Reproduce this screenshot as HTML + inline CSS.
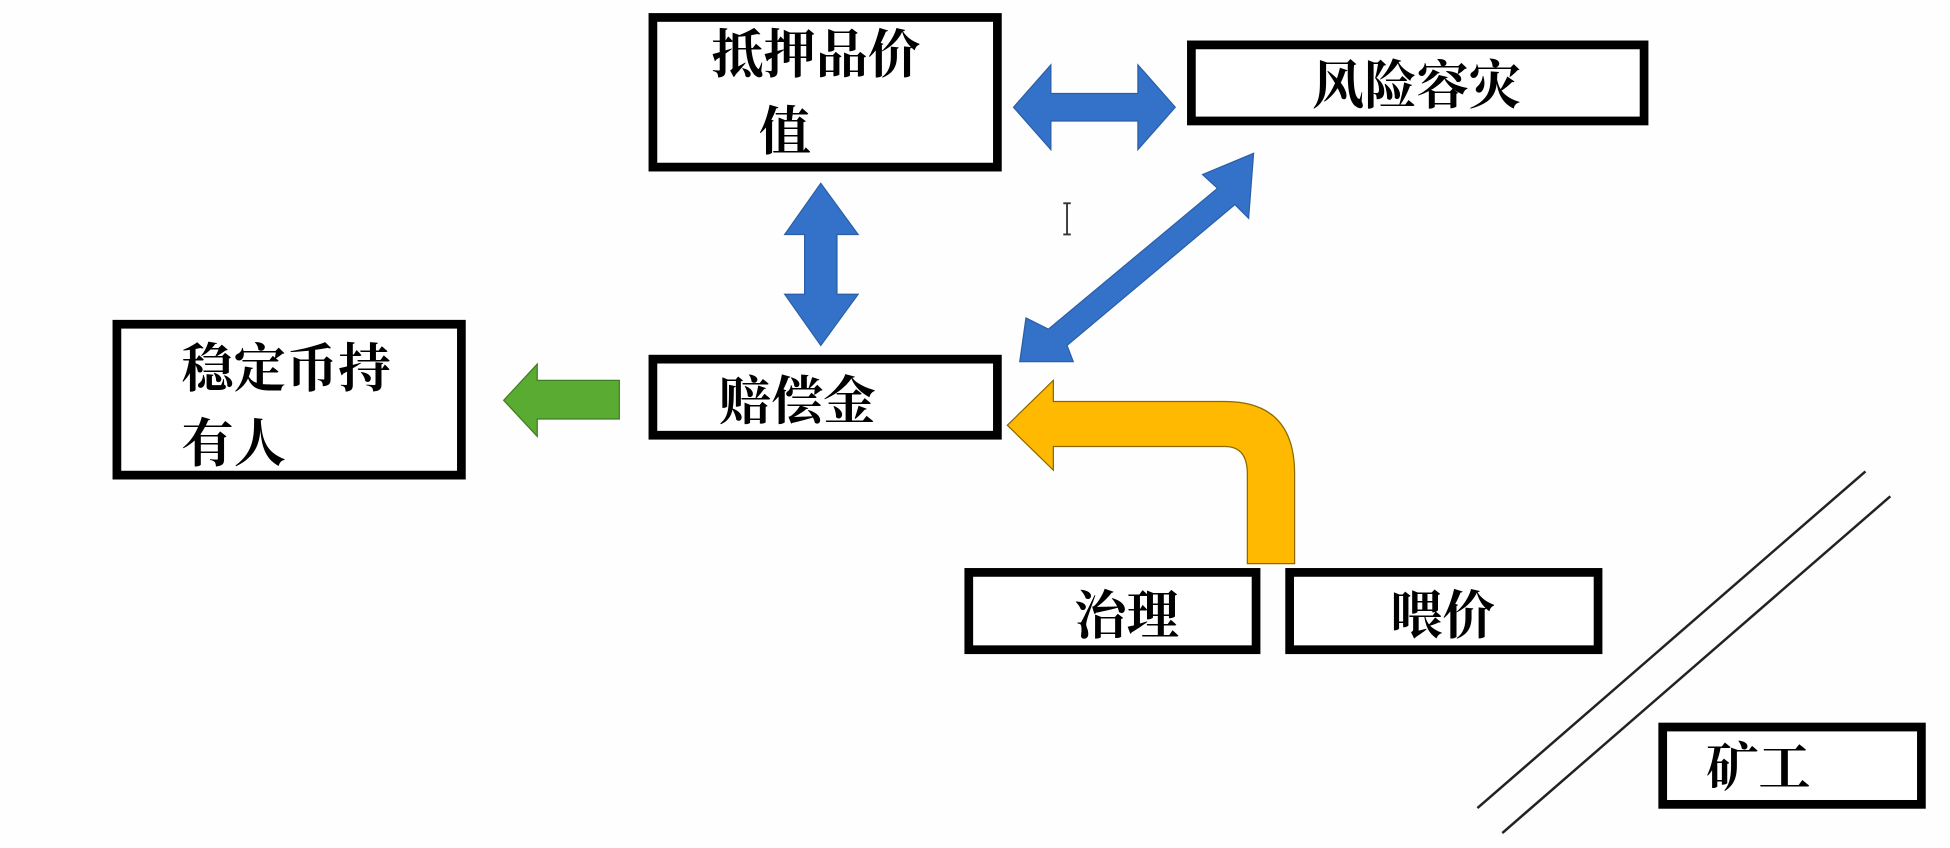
<!DOCTYPE html>
<html><head><meta charset="utf-8"><style>
html,body{margin:0;padding:0;background:#fefefe;}
svg{display:block}
text{font-family:"Liberation Serif","Noto Serif CJK SC","Noto Sans CJK SC",serif;font-weight:bold;font-size:42px;fill:#000}
</style></head><body>
<svg width="1950" height="848" viewBox="0 0 1568 680" preserveAspectRatio="none">
<rect width="1568" height="680" fill="#fefefe"/>
<g fill="#fff" stroke="#000" stroke-width="7">
<rect x="525" y="14" width="277" height="120"/>
<rect x="958" y="36" width="364" height="61"/>
<rect x="94" y="260" width="277" height="121"/>
<rect x="525" y="288" width="277" height="61"/>
<rect x="779" y="459" width="231" height="62"/>
<rect x="1037" y="459" width="248" height="62"/>
<rect x="1337" y="583" width="208" height="62"/>
</g>
<text x="572" y="58">抵押品价</text>
<text x="610" y="120">值</text>
<text x="1055" y="83">风险容灾</text>
<text x="146" y="310">稳定币持</text>
<text x="146" y="370">有人</text>
<text x="578" y="336">赔偿金</text>
<text x="864" y="508">治理</text>
<text x="1118" y="508">喂价</text>
<text x="1372" y="630">矿工</text>
<g fill="#3472c9" stroke="#2a5fa8" stroke-width="1">
<polygon points="815,86 845,52 845,75 915,75 915,52 945,86 915,120 915,97 845,97 845,120"/>
<polygon points="660,147 690,188 673,188 673,236 690,236 660,277 631,236 647,236 647,188 631,188"/>
<polygon points="1008,123 1004,175 993,164 858,277 863,290 820,290 825,255 843,264 979,151 967,140"/>
</g>
<polygon points="405,321 432,292 432,305 498,305 498,336 432,336 432,350" fill="#5aab32" stroke="#3f7d22" stroke-width="1"/>
<path d="M810,341 L847,305 L847,322 L985,322 Q1041,322 1041,380 L1041,452 L1003,452 L1003,380 Q1003,358 985,358 L847,358 L847,377 Z" fill="#ffb900" stroke="#8a6a00" stroke-width="1"/>
<g stroke="#222" stroke-width="2">
<line x1="1188" y1="648" x2="1500" y2="378"/>
<line x1="1208" y1="668" x2="1520" y2="398"/>
</g>
<g stroke="#333" stroke-width="1.5">
<line x1="858" y1="163" x2="858" y2="188"/><line x1="855" y1="163" x2="861" y2="163"/><line x1="855" y1="188" x2="861" y2="188"/>
</g>
</svg>
</body></html>
